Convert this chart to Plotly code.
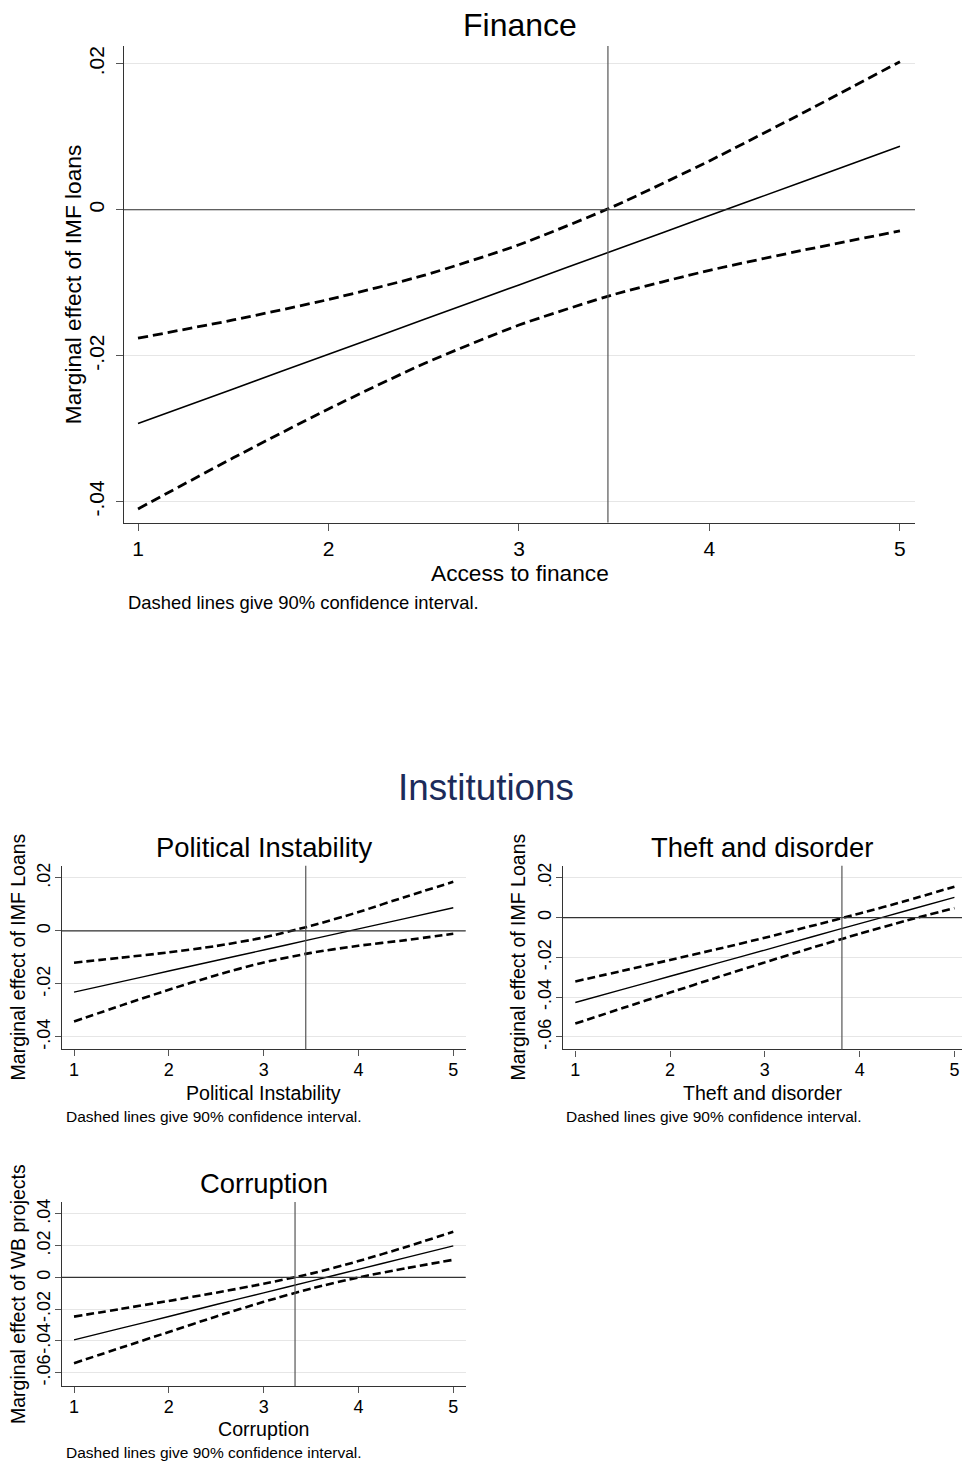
import plotly.graph_objects as go

W, H = 963, 1466

# ---------------- data ----------------
x_vals = [1, 1.5, 2, 2.5, 3, 3.5, 4, 4.5, 5]

fin_me = [-0.0293, -0.02455, -0.0198, -0.01505, -0.0103, -0.00555, -0.0008, 0.00395, 0.0087]
fin_hi = [-0.0176, -0.0151, -0.0123, -0.0090, -0.0048, 0.0005, 0.0067, 0.0134, 0.0203]
fin_lo = [-0.0410, -0.0340, -0.0273, -0.0211, -0.0158, -0.0116, -0.0083, -0.0055, -0.0029]
fin_vline = 3.467

pol_me = [-0.0231, -0.01913, -0.01515, -0.01118, -0.0072, -0.00323, 0.00075, 0.00473, 0.0087]
pol_hi = [-0.0120, -0.0101, -0.0081, -0.0057, -0.0025, 0.0019, 0.0071, 0.0129, 0.0185]
pol_lo = [-0.0342, -0.0281, -0.0222, -0.0167, -0.0119, -0.0083, -0.0056, -0.0035, -0.0011]
pol_vline = 3.444

thf_me = [-0.0427, -0.0361, -0.0295, -0.0229, -0.0163, -0.0096, -0.0030, 0.0036, 0.0102]
thf_hi = [-0.0321, -0.0267, -0.0213, -0.0158, -0.0101, -0.0041, 0.0021, 0.0086, 0.0156]
thf_lo = [-0.0533, -0.0455, -0.0377, -0.0300, -0.0225, -0.0151, -0.0081, -0.0014, 0.0048]
thf_vline = 3.813

cor_me = [-0.0394, -0.0320, -0.0246, -0.0171, -0.0097, -0.0023, 0.0051, 0.0125, 0.0199]
cor_hi = [-0.0247, -0.0198, -0.0148, -0.0096, -0.0040, 0.0024, 0.0103, 0.0192, 0.0288]
cor_lo = [-0.0541, -0.0442, -0.0344, -0.0246, -0.0154, -0.0070, 0.0000, 0.0058, 0.0111]
cor_vline = 3.331

x_ticks = [1, 2, 3, 4, 5]
fin_yticks = [-0.04, -0.02, 0, 0.02]
fin_ylabels = ["-.04", "-.02", "0", ".02"]
pol_yticks = [-0.04, -0.02, 0, 0.02]
pol_ylabels = ["-.04", "-.02", "0", ".02"]
thf_yticks = [-0.06, -0.04, -0.02, 0, 0.02]
thf_ylabels = ["-.06", "-.04", "-.02", "0", ".02"]
cor_yticks = [-0.06, -0.04, -0.02, 0, 0.02, 0.04]
cor_ylabels = ["-.06", "-.04", "-.02", "0", ".02", ".04"]

note = "Dashed lines give 90% confidence interval."

FONT = "Liberation Sans, Arial, sans-serif"


def px(x):
    return x / W


def py(y):
    return 1 - y / H


panels = [
    dict(me=fin_me, hi=fin_hi, lo=fin_lo, vline=fin_vline, yt=fin_yticks, yl=fin_ylabels,
         title="Finance", xtitle="Access to finance", ytitle="Marginal effect of IMF loans",
         box=(124, 915, 43, 521), xr=[0.9265, 5.079], yr=[-0.04287, 0.02246],
         tfs=32, afs=22.7, yafs=22.7, tkfs=21, nfs=18.4, title_y=22, xt_y=572, note_y=601, note_x=126, yt_x=73,
         dw=2.8, sw=1.6, sox=0, soy=4, tl=7),
    dict(me=pol_me, hi=pol_hi, lo=pol_lo, vline=pol_vline, yt=pol_yticks, yl=pol_ylabels,
         title="Political Instability", xtitle="Political Instability", ytitle="Marginal effect of IMF Loans",
         box=(61.7, 465.7, 865, 1049), xr=[0.870, 5.131], yr=[-0.0446, 0.0246],
         tfs=27.4, afs=19.6, yafs=19.5, tkfs=18, nfs=15.5, title_y=847, xt_y=1093, note_y=1117, note_x=64, yt_x=18,
         dw=2.6, sw=1.4, sox=-2, soy=-3, tl=6),
    dict(me=thf_me, hi=thf_hi, lo=thf_lo, vline=thf_vline, yt=thf_yticks, yl=thf_ylabels,
         title="Theft and disorder", xtitle="Theft and disorder", ytitle="Marginal effect of IMF Loans",
         box=(562.7, 962, 865, 1049.3), xr=[0.867, 5.08], yr=[-0.0663, 0.02617],
         tfs=27.4, afs=19.6, yafs=19.5, tkfs=18, nfs=15.5, title_y=847, xt_y=1093, note_y=1117, note_x=564, yt_x=518,
         dw=2.6, sw=1.4, sox=-2, soy=-3, tl=6),
    dict(me=cor_me, hi=cor_hi, lo=cor_lo, vline=cor_vline, yt=cor_yticks, yl=cor_ylabels,
         title="Corruption", xtitle="Corruption", ytitle="Marginal effect of WB projects",
         box=(61.7, 465.7, 1202.3, 1386.7), xr=[0.870, 5.131], yr=[-0.0684, 0.04755],
         tfs=27.4, afs=19.6, yafs=19.5, tkfs=18, nfs=15.5, title_y=1184, xt_y=1430, note_y=1453, note_x=64, yt_x=18,
         dw=2.6, sw=1.4, sox=-2, soy=-3, tl=6),
]

fig = go.Figure()
annotations = []
shapes = []
layout_axes = {}

for i, p in enumerate(panels, start=1):
    xa = "x" if i == 1 else f"x{i}"
    ya = "y" if i == 1 else f"y{i}"
    l, r, t, b = p["box"]
    dash = f"{10 if i == 1 else 8}px,{5 if i == 1 else 4}px"
    for ser, style in ((p["hi"], "dash"), (p["lo"], "dash"), (p["me"], "solid")):
        fig.add_trace(go.Scatter(
            x=x_vals, y=ser, mode="lines", xaxis=xa, yaxis=ya, showlegend=False,
            line=dict(color="black", width=p["dw"] if style == "dash" else p["sw"],
                      dash=dash if style == "dash" else "solid", shape="spline", smoothing=0.6),
            hoverinfo="skip"))
    layout_axes["xaxis" if i == 1 else f"xaxis{i}"] = dict(
        domain=[px(l), px(r)], anchor=ya, range=p["xr"], tickvals=x_ticks,
        ticktext=[str(v) for v in x_ticks], showgrid=False, zeroline=False,
        showline=True, linecolor="#333333", linewidth=1.2, ticks="outside", ticklen=p["tl"],
        tickcolor="#555555", tickfont=dict(family=FONT, size=p["tkfs"], color="black"),
        ticklabelstandoff=p["sox"])
    layout_axes["yaxis" if i == 1 else f"yaxis{i}"] = dict(
        domain=[py(b), py(t)], anchor=xa, range=p["yr"], tickvals=p["yt"], ticktext=p["yl"],
        tickangle=-90, showgrid=True, gridcolor="#e6e6e6", gridwidth=1.3, zeroline=False,
        showline=True, linecolor="#333333", linewidth=1.2, ticks="outside", ticklen=p["tl"],
        tickcolor="#555555", tickfont=dict(family=FONT, size=p["tkfs"], color="black"),
        ticklabelstandoff=p["soy"])
    shapes.append(dict(type="line", xref=xa + " domain", yref=ya, x0=0, x1=1, y0=0, y1=0,
                       line=dict(color="#333333", width=1.2), layer="above"))
    shapes.append(dict(type="line", xref=xa, yref=ya + " domain", x0=p["vline"], x1=p["vline"], y0=0, y1=1,
                       line=dict(color="#555555", width=1.2), layer="above"))
    cx = (l + r) / 2
    annotations += [
        dict(text=p["title"], x=px(cx), y=py(p["title_y"]), xref="paper", yref="paper",
             xanchor="center", yanchor="middle", showarrow=False,
             font=dict(family=FONT, size=p["tfs"], color="black")),
        dict(text=p["xtitle"], x=px(cx), y=py(p["xt_y"]), xref="paper", yref="paper",
             xanchor="center", yanchor="middle", showarrow=False,
             font=dict(family=FONT, size=p["afs"], color="black")),
        dict(text=p["ytitle"], x=px(p["yt_x"]), y=py((t + b) / 2), xref="paper", yref="paper",
             xanchor="center", yanchor="middle", showarrow=False, textangle=-90,
             font=dict(family=FONT, size=p["yafs"], color="black")),
        dict(text=note, x=px(p["note_x"]), y=py(p["note_y"]), xref="paper", yref="paper",
             xanchor="left", yanchor="middle", showarrow=False,
             font=dict(family=FONT, size=p["nfs"], color="black")),
    ]

annotations.append(dict(text="Institutions", x=px(486), y=py(787), xref="paper", yref="paper",
                        xanchor="center", yanchor="middle", showarrow=False,
                        font=dict(family=FONT, size=36.8, color="#1c2b5a")))

fig.update_layout(width=W, height=H, margin=dict(l=0, r=0, t=0, b=0),
                  paper_bgcolor="white", plot_bgcolor="white",
                  annotations=annotations, shapes=shapes, **layout_axes)

fig.write_html("out.html", config={"displayModeBar": False},
               post_script="document.body.style.margin='0';document.body.style.padding='0';"
                           "document.body.style.overflow='hidden';")
